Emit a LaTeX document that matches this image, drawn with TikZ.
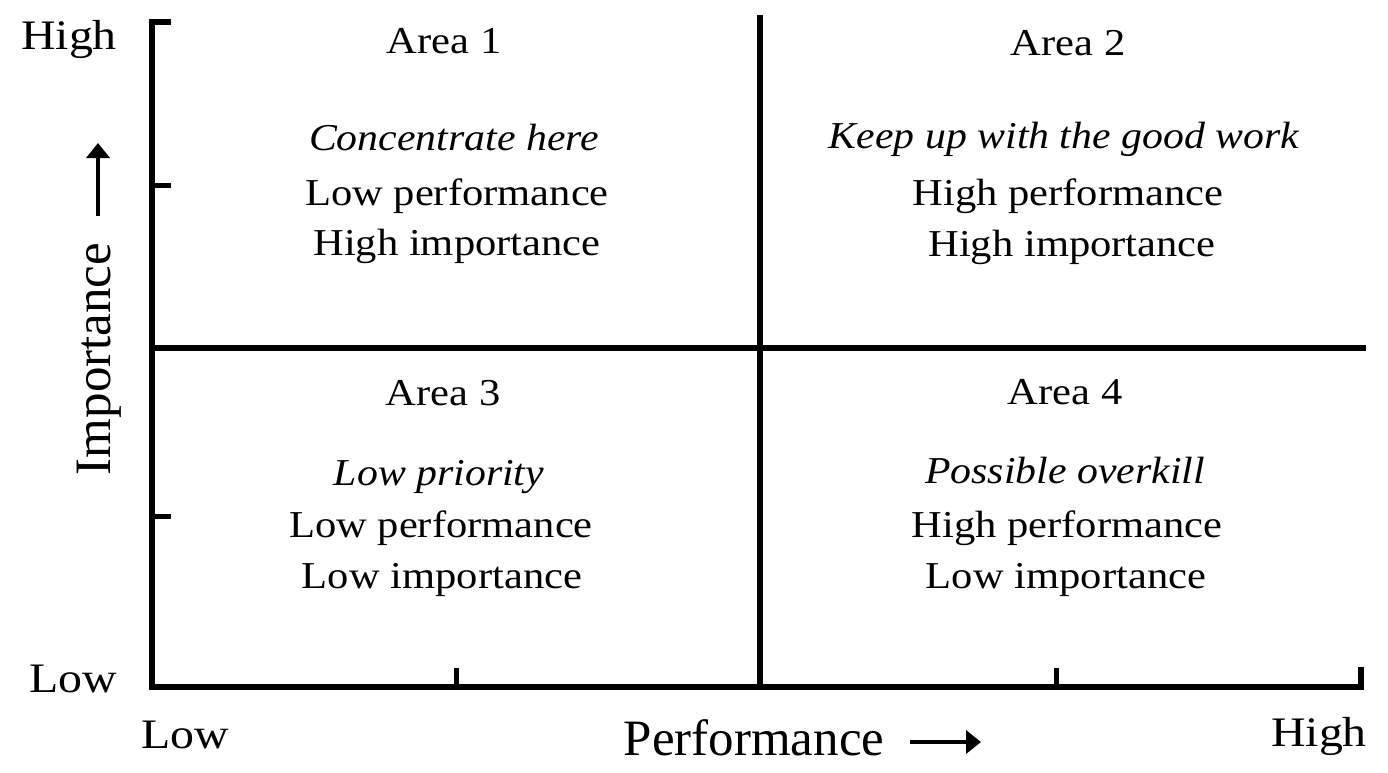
\documentclass[tikz,border=0pt]{standalone}
\usepackage{fontspec}
\setmainfont{Liberation Serif}
\usetikzlibrary{arrows.meta}
\tikzset{
  qt/.style={font=\fontsize{38}{44}\selectfont, xscale=1.12, transform shape, anchor=base, inner sep=0pt},
  qi/.style={font=\fontsize{38}{44}\selectfont\itshape, xscale=1.10, transform shape, anchor=base, inner sep=0pt},
  axlab/.style={font=\fontsize{42}{48}\selectfont, xscale=1.14, transform shape, anchor=base, inner sep=0pt},
  tlab/.style={font=\fontsize{51}{60}\selectfont, anchor=base, inner sep=0pt},
  axisline/.style={line width=6.5pt, line join=miter},
  midline/.style={line width=5.5pt},
  tickmark/.style={line width=5pt},
  dirarrow/.style={line width=3.5pt, -{Triangle[width=23pt,length=15pt]}}
}
\begin{document}
\begin{tikzpicture}[x=1pt,y=-1pt]
\fill[white] (0,0) rectangle (1388,772);
\useasboundingbox (0,0) rectangle (1388,772);
% axes
\coordinate (ytopt) at (171,22);
\coordinate (ytop) at (152,22);
\coordinate (origin) at (152,687);
\coordinate (xend) at (1361,687);
\coordinate (xendt) at (1361,667);
\draw[axisline] (ytopt) -- (ytop) -- (origin) -- (xend) -- (xendt);
% ticks
\coordinate (yt1a) at (152,185); \coordinate (yt1b) at (171,185);
\coordinate (yt2a) at (152,516); \coordinate (yt2b) at (171,516);
\coordinate (xt1a) at (456,687); \coordinate (xt1b) at (456,668);
\coordinate (xt2a) at (1056,687); \coordinate (xt2b) at (1056,668);
\draw[tickmark] (yt1a) -- (yt1b);
\draw[tickmark] (yt2a) -- (yt2b);
\draw[tickmark] (xt1a) -- (xt1b);
\draw[tickmark] (xt2a) -- (xt2b);
% dividing lines
\coordinate (vtop) at (760,15); \coordinate (vbot) at (760,687);
\coordinate (hl) at (152,348); \coordinate (hr) at (1366,348);
\draw[midline] (vtop) -- (vbot);
\draw[midline] (hl) -- (hr);
% axis labels
\node[axlab] (yhigh) at (69,49) {High};
\node[axlab] (ylow) at (73,692) {Low};
\node[axlab] (xlow) at (185,748) {Low};
\node[axlab] (xhigh) at (1319,746) {High};
\node[tlab] (perf) at (754,755) {Performance};
\node[tlab, rotate=90] (imp) at (110,359) {Importance};
\coordinate (ua) at (98,216); \coordinate (ub) at (98,143);
\coordinate (ra) at (910,742); \coordinate (rb) at (981,742);
\draw[dirarrow] (ua) -- (ub);
\draw[dirarrow] (ra) -- (rb);
% quadrant 1
\node[qt] (a1) at (444,53) {Area 1};
\node[qi] (a1i) at (454,150) {Concentrate here};
\node[qt] (a1p) at (457,205) {Low performance};
\node[qt] (a1m) at (457,255) {High importance};
% quadrant 2
\node[qt] (a2) at (1068,55) {Area 2};
\node[qi] (a2i) at (1064,148) {Keep up with the good work};
\node[qt] (a2p) at (1068,205) {High performance};
\node[qt] (a2m) at (1072,256) {High importance};
% quadrant 3
\node[qt] (a3) at (443,405) {Area 3};
\node[qi] (a3i) at (439,485) {Low priority};
\node[qt] (a3p) at (441,537) {Low performance};
\node[qt] (a3m) at (442,588) {Low importance};
% quadrant 4
\node[qt] (a4) at (1065,404) {Area 4};
\node[qi] (a4i) at (1065,483) {Possible overkill};
\node[qt] (a4p) at (1067,537) {High performance};
\node[qt] (a4m) at (1066,588) {Low importance};
\end{tikzpicture}
\end{document}
